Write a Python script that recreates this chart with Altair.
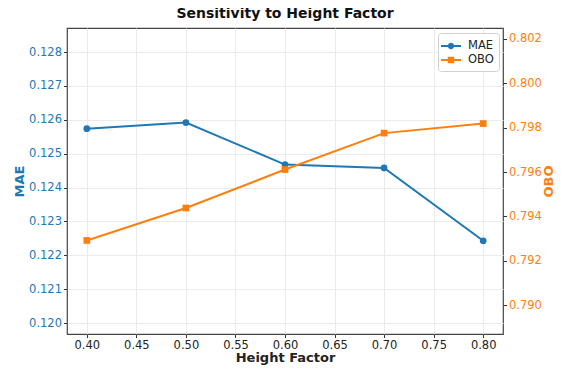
import altair as alt
import pandas as pd

height_factor = [0.40, 0.50, 0.60, 0.70, 0.80]
mae = [0.12574, 0.12592, 0.12468, 0.12458, 0.12243]
obo = [0.79292, 0.79438, 0.79611, 0.79775, 0.79818]

x_ticks = [0.40, 0.45, 0.50, 0.55, 0.60, 0.65, 0.70, 0.75, 0.80]
mae_ticks = [0.120, 0.121, 0.122, 0.123, 0.124, 0.125, 0.126, 0.127, 0.128]
obo_ticks = [0.790, 0.792, 0.794, 0.796, 0.798, 0.800, 0.802]
series_names = ["MAE", "OBO"]

BLUE = "#1f77b4"
ORANGE = "#ff7f0e"
FONT = "DejaVu Sans"

df = pd.DataFrame({"h": height_factor, "MAE": mae, "OBO": obo})

xaxis = alt.Axis(values=x_ticks, format=".2f", title="Height Factor", labelFontSize=11.5,
                 titleFontSize=13, titleFontWeight="bold", labelColor="#222", titleColor="#222",
                 grid=True, gridColor="#ebebeb", tickSize=3.5, tickColor="#333", labelPadding=2,
                 domain=False, titlePadding=0, labelFlush=False)
x = alt.X("h:Q", scale=alt.Scale(domain=[0.38, 0.82], nice=False, zero=False), axis=xaxis)

# legend glyphs: a line with a marker (filled paths, unit box -1..1)
line_rect = "M-1.25,-0.125L1.25,-0.125L1.25,0.125L-1.25,0.125Z"
circle_path = line_rect + "M0.4,0A0.4,0.4,0,1,1,-0.4,0A0.4,0.4,0,1,1,0.4,0Z"
square_path = line_rect + "M-0.4,-0.4L0.4,-0.4L0.4,0.4L-0.4,0.4Z"

legend = alt.Legend(
    title=None, orient="none", legendX=371, legendY=5, labelFontSize=11.5, labelFont=FONT,
    labelColor="#222", symbolSize=256, symbolStrokeWidth=0, fillColor="white",
    strokeColor="#d0d0d0", padding=5, cornerRadius=3, rowPadding=0, labelOffset=9,
    symbolOpacity=1,
)
color_scale = alt.Scale(domain=series_names, range=[BLUE, ORANGE])
shape_scale = alt.Scale(domain=series_names, range=[circle_path, square_path])

base = alt.Chart(df)

mae_scale = alt.Scale(domain=[0.11968, 0.12871], nice=False, zero=False)
mae_axis = alt.Axis(values=mae_ticks, format=".3f", title="MAE", labelColor=BLUE, titleColor=BLUE,
                    labelFontSize=11.5, titleFontSize=13, titleFontWeight="bold", grid=True,
                    gridColor="#ebebeb", tickSize=3.5, tickColor="#333", domain=False,
                    labelPadding=2, titlePadding=2)
mae_y = alt.Y("MAE:Q", scale=mae_scale, axis=mae_axis)
mae_line = base.mark_line(strokeWidth=2, color=BLUE).encode(x=x, y=mae_y)
mae_pts = base.mark_point(filled=True, shape="circle", size=45, opacity=1, color=BLUE).encode(x=x, y=mae_y)
legend_layer = base.transform_fold(series_names, as_=["series", "v"]).transform_filter("false").mark_point(
    filled=True, opacity=1).encode(
    x=x, y=alt.Y("v:Q", scale=mae_scale, axis=mae_axis),
    color=alt.Color("series:N", scale=color_scale, legend=legend),
    shape=alt.Shape("series:N", scale=shape_scale, legend=legend),
)
left = alt.layer(mae_line, mae_pts, legend_layer)

obo_scale = alt.Scale(domain=[0.78871, 0.80248], nice=False, zero=False)
obo_axis = alt.Axis(values=obo_ticks, format=".3f", title="OBO", orient="right", labelColor=ORANGE,
                    titleColor=ORANGE, labelFontSize=11.5, titleFontSize=13, titleFontWeight="bold",
                    grid=False, tickSize=3.5, tickColor="#333", domain=False, labelPadding=2,
                    titlePadding=1, titleAngle=270, titleBaseline="top")
obo_y = alt.Y("OBO:Q", scale=obo_scale, axis=obo_axis)
obo_line = base.mark_line(strokeWidth=2, color=ORANGE).encode(x=x, y=obo_y)
obo_pts = base.mark_point(filled=True, shape="square", size=45, opacity=1, color=ORANGE).encode(x=x, y=obo_y)
right = alt.layer(obo_line, obo_pts)

chart = alt.layer(left, right).resolve_scale(y="independent").properties(
    width=436, height=306,
    title=alt.TitleParams("Sensitivity to Height Factor", fontSize=14, fontWeight="bold",
                          font=FONT, color="#111", anchor="middle", offset=7),
    autosize=alt.AutoSizeParams(type="none"),
    padding={"left": 59, "top": 20, "right": 52, "bottom": 31},
).configure(font=FONT).configure_view(stroke="#444", strokeWidth=1.2).configure_axis(
    labelFont=FONT, titleFont=FONT)

chart.save("out.html", embed_options={"renderer": "svg", "actions": False})
